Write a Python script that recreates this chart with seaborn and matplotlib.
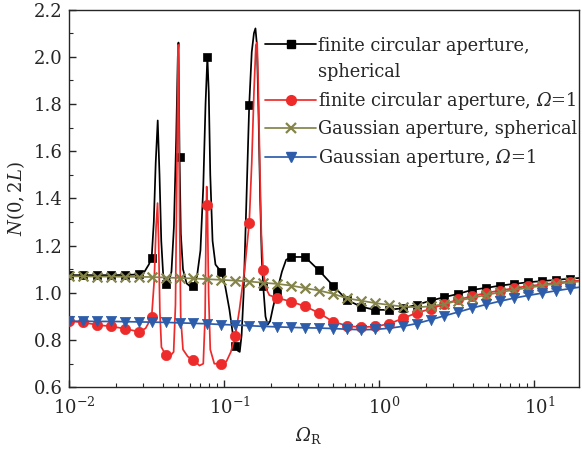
import numpy as np
import pandas as pd
import matplotlib
matplotlib.use('Agg')
import matplotlib.pyplot as plt
import matplotlib.transforms as mtransforms
from matplotlib.lines import Line2D
import seaborn as sns

# ==========================================
# 1. data
# ==========================================
# marker positions (same log grid for every curve)
grid_x = [0.0100, 0.0123, 0.0151, 0.0186, 0.0229, 0.0282, 0.0339, 0.0417, 0.0513, 0.0631,
          0.0776, 0.0955, 0.1175, 0.1445, 0.1778, 0.2188, 0.2692, 0.3311, 0.4074, 0.5012,
          0.6166, 0.7586, 0.9333, 1.148, 1.413, 1.738, 2.138, 2.630, 3.236, 3.981,
          4.898, 6.026, 7.413, 9.120, 11.22, 13.80, 16.98]

# finite circular aperture, spherical (markers)
circ_sph_y = [1.075, 1.075, 1.075, 1.075, 1.076, 1.078, 1.148, 1.038, 1.577, 1.031,
              2.000, 1.088, 0.776, 1.797, 1.030, 1.010, 1.152, 1.152, 1.095, 1.031,
              0.970, 0.942, 0.928, 0.928, 0.935, 0.949, 0.967, 0.982, 0.996, 1.013,
              1.021, 1.031, 1.038, 1.045, 1.050, 1.055, 1.060]
# finite circular aperture, spherical (line through the resonances)
circ_sph_line_x = [0.0100, 0.0123, 0.0151, 0.0186, 0.0229, 0.0282, 0.0305, 0.0325, 0.0339, 0.0350,
                   0.0360, 0.0371, 0.0381, 0.0391, 0.0402, 0.0417, 0.0435, 0.0455, 0.0472, 0.0488,
                   0.0500, 0.0505, 0.0513, 0.0523, 0.0540, 0.0570, 0.0600, 0.0631, 0.0665, 0.0700,
                   0.0730, 0.0755, 0.0776, 0.0792, 0.0810, 0.0838, 0.0875, 0.0955, 0.1010, 0.1076,
                   0.1130, 0.1175, 0.1220, 0.1255, 0.1290, 0.1330, 0.1380, 0.1445, 0.1500, 0.1550,
                   0.1585, 0.1620, 0.1660, 0.1700, 0.1740, 0.1778, 0.1840, 0.1900, 0.1970, 0.2060,
                   0.2188, 0.2350, 0.2500, 0.2692, 0.3311, 0.4074, 0.5012, 0.6166, 0.7586, 0.9333,
                   1.148, 1.413, 1.738, 2.138, 2.630, 3.236, 3.981, 4.898, 6.026, 7.413,
                   9.120, 11.22, 13.80, 16.98, 19.5]
circ_sph_line_y = [1.075, 1.075, 1.075, 1.075, 1.076, 1.078, 1.090, 1.120, 1.148, 1.300,
                   1.550, 1.730, 1.500, 1.220, 1.080, 1.038, 1.040, 1.090, 1.280, 1.650,
                   2.000, 2.060, 1.577, 1.250, 1.100, 1.040, 1.028, 1.031, 1.070, 1.180,
                   1.450, 1.800, 2.000, 1.850, 1.500, 1.220, 1.120, 1.088, 1.030, 0.930,
                   0.830, 0.776, 0.755, 0.750, 0.820, 1.000, 1.350, 1.797, 2.020, 2.100,
                   2.120, 2.050, 1.750, 1.400, 1.150, 1.030, 0.900, 0.865, 0.880, 0.940,
                   1.010, 1.090, 1.140, 1.152, 1.152, 1.095, 1.031, 0.970, 0.942, 0.928,
                   0.928, 0.935, 0.949, 0.967, 0.982, 0.996, 1.013, 1.021, 1.031, 1.038,
                   1.045, 1.050, 1.055, 1.060, 1.063]

# finite circular aperture, Omega=1 (markers, one hidden near the 2nd peak)
circ_one_mx = [0.0100, 0.0123, 0.0151, 0.0186, 0.0229, 0.0282, 0.0339, 0.0417, 0.0631,
               0.0776, 0.0955, 0.1175, 0.1445, 0.1778, 0.2188, 0.2692, 0.3311, 0.4074, 0.5012,
               0.6166, 0.7586, 0.9333, 1.148, 1.413, 1.738, 2.138, 2.630, 3.236, 3.981,
               4.898, 6.026, 7.413, 9.120, 11.22, 13.80, 16.98]
circ_one_my = [0.880, 0.875, 0.864, 0.858, 0.848, 0.835, 0.897, 0.738, 0.716,
               1.371, 0.698, 0.818, 1.297, 1.095, 0.979, 0.963, 0.943, 0.915, 0.878,
               0.861, 0.854, 0.858, 0.868, 0.892, 0.915, 0.932, 0.953, 0.972, 0.986,
               1.000, 1.010, 1.020, 1.029, 1.035, 1.043, 1.048]
circ_one_line_x = [0.0100, 0.0123, 0.0151, 0.0186, 0.0229, 0.0282, 0.0310, 0.0339, 0.0352, 0.0362,
                   0.0370, 0.0376, 0.0383, 0.0392, 0.0417, 0.0450, 0.0470, 0.0483, 0.0493, 0.0500,
                   0.0503, 0.0507, 0.0513, 0.0522, 0.0540, 0.0580, 0.0631, 0.0690, 0.0730, 0.0750,
                   0.0760, 0.0768, 0.0776, 0.0790, 0.0810, 0.0860, 0.0955, 0.1030, 0.1100, 0.1175,
                   0.1250, 0.1350, 0.1445, 0.1500, 0.1550, 0.1595, 0.1625, 0.1650, 0.1690, 0.1730,
                   0.1778, 0.1850, 0.1950, 0.2188, 0.2692, 0.3311, 0.4074, 0.5012, 0.6166, 0.7586,
                   0.9333, 1.148, 1.413, 1.738, 2.138, 2.630, 3.236, 3.981, 4.898, 6.026,
                   7.413, 9.120, 11.22, 13.80, 16.98, 19.5]
circ_one_line_y = [0.880, 0.875, 0.864, 0.858, 0.848, 0.835, 0.850, 0.897, 1.050, 1.280,
                   1.380, 1.220, 0.920, 0.770, 0.738, 0.735, 0.750, 0.950, 1.500, 1.900,
                   2.050, 1.900, 1.350, 0.900, 0.760, 0.730, 0.716, 0.692, 0.700, 0.900,
                   1.250, 1.450, 1.371, 1.000, 0.760, 0.700, 0.698, 0.710, 0.750, 0.818,
                   0.930, 1.100, 1.297, 1.550, 1.850, 2.050, 2.060, 1.900, 1.550, 1.250,
                   1.095, 1.020, 0.990, 0.979, 0.963, 0.943, 0.915, 0.878, 0.861, 0.854,
                   0.858, 0.868, 0.892, 0.915, 0.932, 0.953, 0.972, 0.986, 1.000, 1.010,
                   1.020, 1.029, 1.035, 1.043, 1.048, 1.052]

# Gaussian aperture, spherical
gauss_sph_y = [1.070, 1.070, 1.069, 1.069, 1.068, 1.068, 1.067, 1.065, 1.063, 1.061,
               1.058, 1.055, 1.052, 1.048, 1.043, 1.038, 1.031, 1.020, 1.010, 0.996,
               0.977, 0.967, 0.957, 0.949, 0.942, 0.939, 0.943, 0.953, 0.967, 0.979,
               0.991, 1.003, 1.013, 1.021, 1.031, 1.038, 1.045]
gauss_sph_end = 1.048

# Gaussian aperture, Omega=1
gauss_one_y = [0.880, 0.880, 0.879, 0.879, 0.878, 0.877, 0.876, 0.875, 0.873, 0.871,
               0.869, 0.866, 0.864, 0.861, 0.858, 0.856, 0.854, 0.852, 0.851, 0.849,
               0.846, 0.844, 0.845, 0.850, 0.858, 0.870, 0.886, 0.903, 0.919, 0.936,
               0.951, 0.965, 0.978, 0.989, 0.999, 1.009, 1.018]
gauss_one_end = 1.024

labels = ['finite circular aperture,', 'spherical',
          r'finite circular aperture, $\Omega$=1',
          'Gaussian aperture, spherical',
          r'Gaussian aperture, $\Omega$=1']

# ==========================================
# 2. style
# ==========================================
sns.set_style('ticks')
plt.rcParams['font.family'] = ['DejaVu Serif']
# italic Greek in math text; \mathbf is used for the upright pieces
plt.rcParams['mathtext.fontset'] = 'custom'
plt.rcParams['mathtext.rm'] = 'DejaVu Serif:italic'
plt.rcParams['mathtext.it'] = 'DejaVu Serif:italic'
plt.rcParams['mathtext.bf'] = 'DejaVu Serif'
plt.rcParams['xtick.direction'] = 'in'
plt.rcParams['ytick.direction'] = 'in'

c_black = '#000000'
c_red = '#ee2b2b'
c_olive = '#84844a'
c_blue = '#2d5daa'

fig = plt.figure(figsize=(5.82, 4.53), dpi=100)
ax = fig.add_axes([0.1194, 0.145, 0.876, 0.834])

end_x = 19.5
series = [
    # line x, line y, marker x, marker y, colour, marker, size
    (circ_sph_line_x, circ_sph_line_y, grid_x, circ_sph_y, c_black, 's', 34),
    (circ_one_line_x, circ_one_line_y, circ_one_mx, circ_one_my, c_red, 'o', 55),
    (grid_x + [end_x], gauss_sph_y + [gauss_sph_end], grid_x, gauss_sph_y, c_olive, 'x', 50),
    (grid_x + [end_x], gauss_one_y + [gauss_one_end], grid_x, gauss_one_y, c_blue, 'v', 55),
]

for i, (lx, ly, mx, my, col, mk, sz) in enumerate(series):
    sns.lineplot(x=lx, y=ly, ax=ax, color=col, lw=1.25, sort=False, zorder=2 + i)
    if mk == 'x':
        sns.scatterplot(x=mx, y=my, ax=ax, color=col, marker=mk, s=sz, linewidth=1.6, zorder=2 + i)
    else:
        sns.scatterplot(x=mx, y=my, ax=ax, color=col, marker=mk, s=sz, edgecolor=col,
                        linewidth=0.5, zorder=2 + i)

ax.set_xscale('log')
ax.set_xlim(0.01, end_x)
ax.set_ylim(0.6, 2.2)
ax.set_yticks(np.arange(0.6, 2.21, 0.2))
ax.set_yticklabels([f'{v:.1f}' for v in np.arange(0.6, 2.21, 0.2)])
ax.set_yticks(np.arange(0.7, 2.2, 0.2), minor=True)
ax.tick_params(axis='y', which='major', labelsize=13, length=5, width=1, pad=5)
ax.tick_params(axis='x', which='major', labelsize=13, length=5, width=1, pad=7)
ax.tick_params(axis='both', which='minor', length=3, width=0.8)
ax.tick_params(top=False, right=False, which='both')
for sp in ax.spines.values():
    sp.set_linewidth(1.0)

# the decade labels sit a little right of their ticks in the original
shift = mtransforms.ScaledTranslation(5 / 100, 0, fig.dpi_scale_trans)
for lab in ax.get_xticklabels():
    lab.set_transform(lab.get_transform() + shift)

ax.set_xlabel(r'$\Omega_{\mathbf{R}}$', fontsize=13)
ax.xaxis.set_label_coords(0.468, -0.1)
ax.set_ylabel(r'$N\mathbf{(0,2}L\mathbf{)}$', fontsize=13)
ax.yaxis.set_label_coords(-0.083, 0.5)

# legend
handles = [
    Line2D([], [], color=c_black, lw=1.25, marker='s', ms=6),
    Line2D([], [], color='none'),
    Line2D([], [], color=c_red, lw=1.25, marker='o', ms=7),
    Line2D([], [], color=c_olive, lw=1.25, marker='x', ms=7, mew=1.6),
    Line2D([], [], color=c_blue, lw=1.25, marker='v', ms=7),
]
ax.legend(handles, labels, loc='upper left', bbox_to_anchor=(0.383, 0.928), frameon=False,
          fontsize=12.8, handlelength=2.9, handletextpad=0.1, labelspacing=0.48,
          borderpad=0, borderaxespad=0)

plt.savefig('out.png', dpi=100)
